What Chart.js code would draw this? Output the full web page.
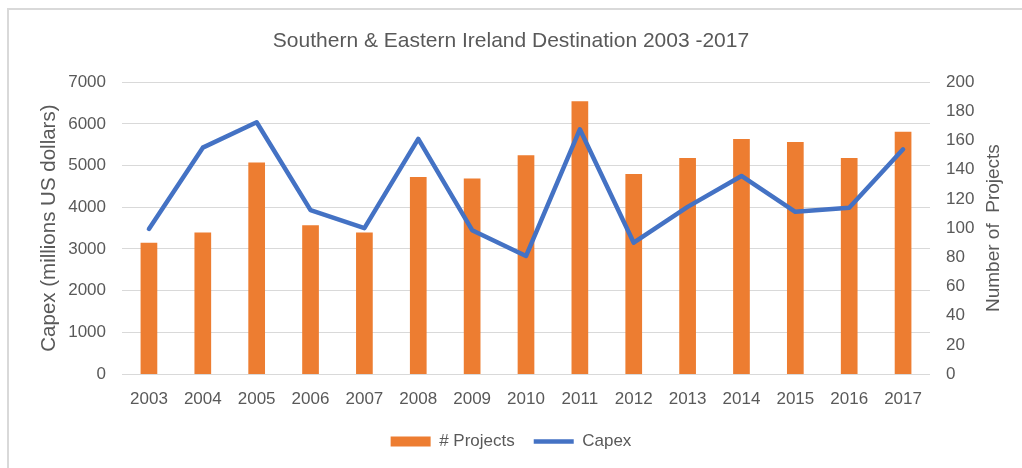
<!DOCTYPE html>
<html>
<head>
<meta charset="utf-8">
<script src="https://cdn.jsdelivr.net/npm/chart.js@4/dist/chart.umd.min.js"></script>
<style>
  html, body { margin: 0; padding: 0; background: #fff; overflow: hidden; }
  #frame { position: absolute; left: 7px; top: 8px; width: 1100px; height: 500px;
           border-left: 2px solid #d9d9d9; border-top: 2px solid #d9d9d9; }
  #wrap { position: absolute; left: 0; top: 0; width: 1022px; height: 468px; }
</style>
</head>
<body>
<div id="frame"></div>
<div id="wrap"><canvas id="chart"></canvas></div>
<script>
// data
const years = ['2003', '2004', '2005', '2006', '2007', '2008', '2009', '2010',
  '2011', '2012', '2013', '2014', '2015', '2016', '2017'];
const projects = [90, 97, 145, 102, 97, 135, 134, 150, 187, 137, 148, 161, 159, 148, 166];
const capex = [3480, 5430, 6040, 3930, 3500, 5640, 3450, 2830, 5870, 3150, 4010, 4750, 3890, 3990, 5390];
const rightTitle = 'Number of  Projects';

const grey = '#595959';
const font = 'Liberation Sans';
Chart.defaults.font.family = font;
Chart.defaults.color = grey;

// right axis title reads bottom-to-top, like Excel
const rightTitlePlugin = {
  id: 'rightTitle',
  afterDraw(chart) {
    const s = chart.scales.y1;
    const c = chart.ctx;
    c.save();
    c.translate(994, (s.top + s.bottom) / 2);
    c.rotate(-Math.PI / 2);
    c.font = '19px "' + font + '"';
    c.fillStyle = grey;
    c.textAlign = 'center';
    c.textBaseline = 'middle';
    c.fillText(rightTitle, 0, 0);
    c.restore();
  }
};

const ctx = document.getElementById('chart');
new Chart(ctx, {
  data: {
    labels: years,
    datasets: [
      {
        type: 'bar',
        label: '# Projects',
        data: projects,
        yAxisID: 'y1',
        backgroundColor: '#ed7d31',
        borderWidth: 0,
        barPercentage: 0.31,
        categoryPercentage: 1,
        order: 1
      },
      {
        type: 'line',
        label: 'Capex',
        data: capex,
        yAxisID: 'y',
        borderColor: '#4472c4',
        backgroundColor: '#4472c4',
        borderWidth: 4.5,
        borderJoinStyle: 'round',
        borderCapStyle: 'round',
        pointRadius: 0,
        tension: 0,
        order: 0
      }
    ]
  },
  options: {
    responsive: true,
    maintainAspectRatio: false,
    animation: false,
    layout: { padding: { left: 0, right: 0, top: 0, bottom: 8 } },
    plugins: {
      title: {
        display: true,
        text: 'Southern & Eastern Ireland Destination 2003 -2017',
        color: grey,
        font: { size: 21, weight: 'normal' },
        padding: { top: 29, bottom: 28 }
      },
      legend: {
        position: 'bottom',
        labels: {
          usePointStyle: true,
          pointStyleWidth: 40,
          boxHeight: 10,
          padding: 19,
          color: grey,
          font: { size: 17 },
          sort: (a, b) => a.datasetIndex - b.datasetIndex,
          generateLabels: chart => chart.data.datasets.map((ds, i) => ({
            text: ds.label,
            fillStyle: ds.backgroundColor,
            strokeStyle: ds.type === 'line' ? ds.borderColor : ds.backgroundColor,
            lineWidth: ds.type === 'line' ? 4.5 : 0,
            pointStyle: ds.type === 'line' ? 'line' : 'rect',
            fontColor: grey,
            hidden: false,
            datasetIndex: i
          }))
        }
      },
      tooltip: { enabled: false }
    },
    scales: {
      x: {
        grid: { display: false, drawTicks: false },
        border: { display: false },
        ticks: { font: { size: 17 }, padding: 15, maxRotation: 0 },
        afterFit: s => { s.height = 40; }
      },
      y: {
        position: 'left',
        min: 0,
        max: 7000,
        ticks: { stepSize: 1000, font: { size: 17 }, padding: 16, callback: v => String(v) },
        grid: { color: '#d9d9d9', lineWidth: 1, drawTicks: false },
        border: { display: false },
        title: {
          display: true,
          text: 'Capex (millions US dollars)',
          font: { size: 20.5 },
          padding: { top: 36.7, bottom: 0 }
        },
        afterFit: s => { s.width = 122; }
      },
      y1: {
        position: 'right',
        min: 0,
        max: 200,
        ticks: { stepSize: 20, font: { size: 17 }, padding: 16, callback: v => String(v) },
        grid: { display: false, drawTicks: false },
        border: { display: false },
        title: { display: false },
        afterFit: s => { s.width = 92; }
      }
    }
  },
  plugins: [rightTitlePlugin]
});
</script>
</body>
</html>
